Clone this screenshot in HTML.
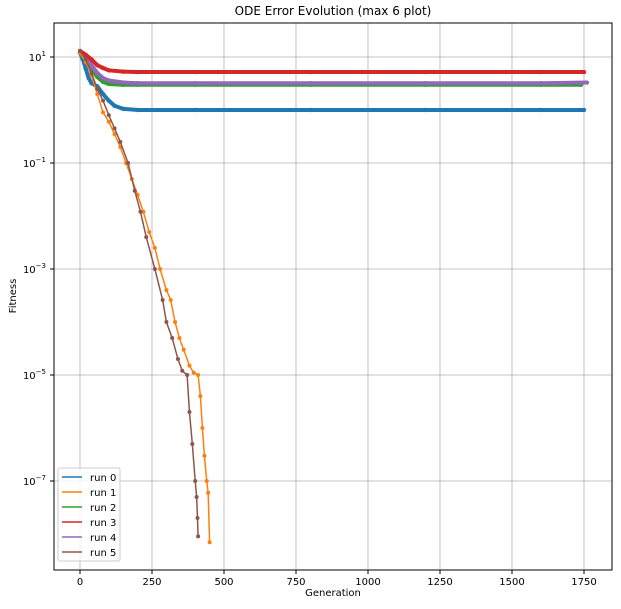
<!DOCTYPE html>
<html><head><meta charset="utf-8"><style>
body{margin:0;background:#fff;font-family:"Liberation Sans","DejaVu Sans",sans-serif}
svg text{font-family:"DejaVu Sans","Liberation Sans",sans-serif}
</style></head><body>
<svg id="chart" width="621" height="604" xmlns="http://www.w3.org/2000/svg">
<rect width="621" height="604" fill="#fff"/>
<text x="333" y="15" font-size="12" text-anchor="middle" fill="#000">ODE Error Evolution (max 6 plot)</text>
<g id="grid"></g>
<g id="series"></g>
<rect x="54" y="23" width="558" height="547" fill="none" stroke="#000" stroke-width="1"/>
<g id="ticks"></g>
<text x="333" y="596" font-size="10" text-anchor="middle">Generation</text>
<text x="16" y="296" font-size="10" text-anchor="middle" transform="rotate(-90 16 296)">Fitness</text>
<g id="legend"></g>
</svg>
<script>
const xTicks=[0,250,500,750,1000,1250,1500,1750];
const yTickExps=[1,-1,-3,-5,-7];
const seriesNames=["run 0","run 1","run 2","run 3","run 4","run 5"];
const colors=["#1f77b4","#ff7f0e","#2ca02c","#d62728","#9467bd","#8c564b"];
const run0G=[0,10,20,30,40,60,80,100,120,150,200,400,800,1200,1600,1750];
const run0V=[12,9,6,4,3.2,2.8,2.0,1.5,1.2,1.05,1.0,1.0,1.0,1.0,1.0,1.0];
const run1G=[0,20,40,60,80,100,120,140,160,180,200,220,240,260,278,300,315,330,345,360,380,395,410,418,425,432,440,445,450];
const run1V=[12,8,4.5,2,0.9,0.6,0.35,0.2,0.1,0.05,0.025,0.012,0.005,0.0025,0.001,0.0004,0.00026,0.0001,0.00005,0.00003,0.000015,0.000011,0.00001,0.000004,0.000001,0.0000003,0.0000001,0.00000006,0.000000007];
const run2G=[0,20,40,60,80,100,150,200,400,800,1200,1600,1740];
const run2V=[12,9,6,4.2,3.4,3.1,3.0,3.0,3.0,3.0,3.0,3.0,3.0];
const run3G=[0,20,40,60,80,100,150,200,400,800,1200,1600,1750];
const run3V=[13,11,9,7,6.2,5.6,5.3,5.2,5.2,5.2,5.2,5.2,5.2];
const run4G=[0,20,40,60,80,100,150,200,400,800,1200,1600,1760];
const run4V=[12,10,7,5,4,3.6,3.3,3.2,3.2,3.2,3.2,3.2,3.3];
const run5G=[0,20,40,60,80,100,120,140,167,190,210,230,260,287,300,320,340,355,372,380,390,400,405,408,410];
const run5V=[13,9,5,2.5,1.5,0.8,0.45,0.25,0.1,0.03,0.012,0.004,0.001,0.00026,0.0001,0.00005,0.00002,0.000012,0.00001,0.000002,0.0000005,0.0000001,0.00000005,0.00000002,0.000000009];
const allG=[run0G,run1G,run2G,run3G,run4G,run5G];
const allV=[run0V,run1V,run2V,run3V,run4V,run5V];
const X0=80,PX=72/250,Y1=57,PD=53;
const xs=g=>X0+g*PX;
const ys=v=>Y1-(Math.log10(v)-1)*PD;
const NS="http://www.w3.org/2000/svg";
function mk(t,a,p){const e=document.createElementNS(NS,t);for(const k in a)e.setAttribute(k,a[k]);p.appendChild(e);return e;}
const grid=document.getElementById('grid'),ticks=document.getElementById('ticks');
xTicks.forEach(t=>{const x=xs(t);
 const l=mk('line',{x1:x,x2:x,y1:23,y2:570,stroke:'#b0b0b0','stroke-width':0.8},grid);
 
 
 mk('line',{x1:x,x2:x,y1:570,y2:574,stroke:'#000'},ticks);
 const tx=mk('text',{x:x,y:585,'font-size':10,'text-anchor':'middle'},ticks);tx.textContent=t;
 
 
});
yTickExps.forEach(e=>{const y=ys(Math.pow(10,e));
 const l=mk('line',{x1:54,x2:612,y1:y,y2:y,stroke:'#b0b0b0','stroke-width':0.8},grid);
 
 
 mk('line',{x1:50,x2:54,y1:y,y2:y,stroke:'#000'},ticks);
 const tx=mk('text',{x:46,y:y+4,'font-size':10,'text-anchor':'end'},ticks);
 
 
 tx.textContent='10';const s=mk('tspan',{dy:-5,'font-size':7},tx);s.textContent=(e<0?'−':'')+Math.abs(e);
});
const sg=document.getElementById('series');
[0,2,4,3,1,5].forEach(i=>{
 const g=mk('g',{},sg);
 
 
 const flat=(i!==1&&i!==5);
 const pts=allG[i].map((gv,j)=>xs(gv)+','+ys(allV[i][j])).join(' ');
 mk('polyline',{points:pts,fill:'none',stroke:colors[i],'stroke-width':flat?4:1.5},g);
 allG[i].forEach((gv,j)=>{
  const c=mk('circle',{cx:xs(gv),cy:ys(allV[i][j]),r:flat?2.2:2,fill:colors[i]},g);
  
  
 });
});
const lg=document.getElementById('legend');
mk('rect',{x:58,y:468,width:62,height:93,rx:2,fill:'#fff','fill-opacity':0.8,stroke:'#ccc'},lg);
seriesNames.forEach((n,i)=>{const y=477+i*15;
 const e=mk('g',{},lg);
 
 
 mk('line',{x1:62,x2:82,y1:y,y2:y,stroke:colors[i],'stroke-width':1.5},e);
 const t=mk('text',{x:90,y:y+4,'font-size':10},e);t.textContent=n;
});
</script>
</body></html>
